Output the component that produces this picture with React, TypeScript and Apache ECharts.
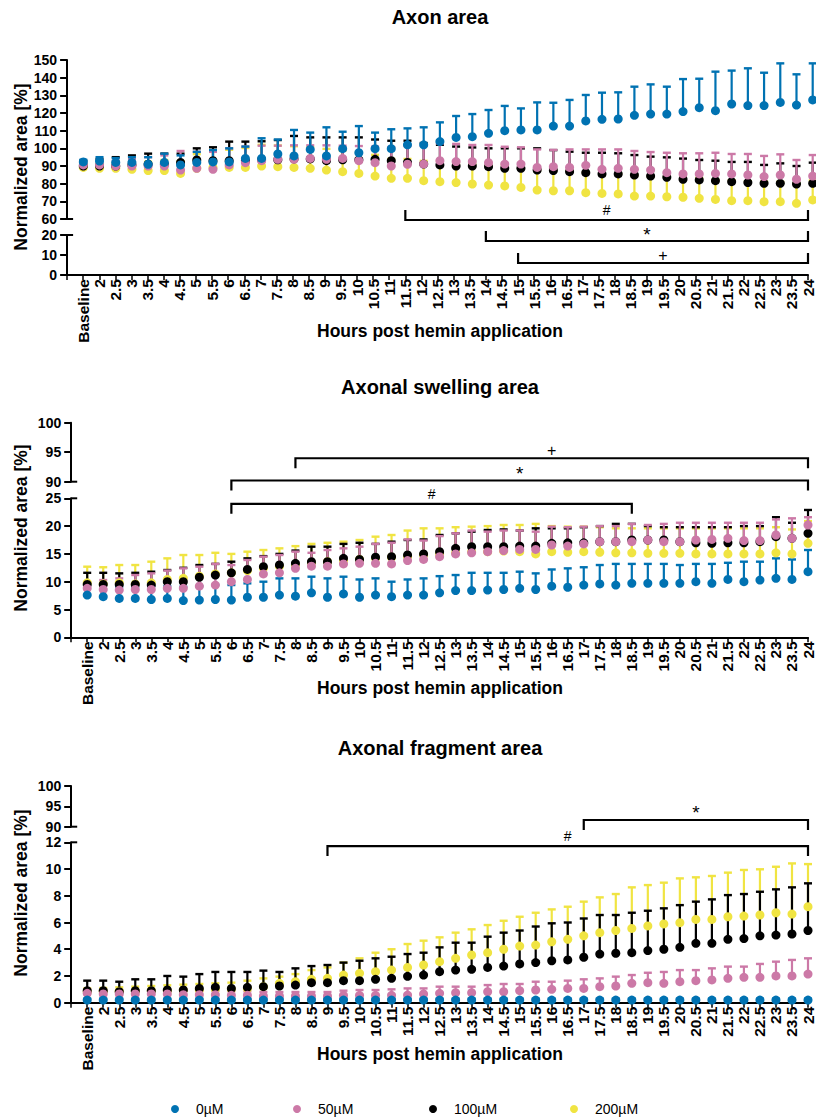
import React, { useEffect, useRef } from "react";
import * as echarts from "echarts";

// ---------- DATA ----------
const hours = ["Baseline", "2", "2.5", "3", "3.5", "4", "4.5", "5", "5.5", "6", "6.5", "7", "7.5", "8", "8.5", "9", "9.5", "10", "10.5", "11", "11.5", "12", "12.5", "13", "13.5", "14", "14.5", "15", "15.5", "16", "16.5", "17", "17.5", "18", "18.5", "19", "19.5", "20", "20.5", "21", "21.5", "22", "22.5", "23", "23.5", "24"];
const groups = ["0µM", "50µM", "100µM", "200µM"];

// Axon area (mean, SD)
const axonMean0 = [92.3, 92.8, 92.0, 92.0, 91.0, 92.0, 90.6, 92.0, 92.3, 92.3, 94.3, 94.3, 96.8, 95.7, 99.4, 95.7, 99.8, 97.5, 99.8, 99.8, 102.0, 102.0, 103.8, 106.2, 106.6, 108.5, 110.0, 110.4, 110.4, 112.6, 112.6, 115.5, 116.4, 116.6, 118.7, 119.4, 119.4, 120.8, 123.0, 121.3, 125.1, 124.2, 124.2, 126.0, 124.5, 127.4];
const axonSd0 = [1.2, 2.2, 2.5, 3.0, 4.0, 5.0, 5.4, 6.0, 6.7, 7.7, 6.7, 11.4, 8.2, 14.7, 9.5, 16.2, 9.6, 15.1, 9.1, 11.0, 9.3, 9.9, 10.9, 12.1, 12.8, 13.2, 14.0, 12.2, 15.6, 13.2, 14.8, 14.7, 15.1, 15.1, 16.2, 16.8, 15.5, 18.4, 16.4, 22.1, 18.9, 21.1, 18.6, 22.1, 17.4, 20.7];
const axonMean50 = [90.6, 90.6, 90.0, 90.0, 90.0, 90.0, 87.7, 88.7, 88.1, 90.6, 91.9, 93.0, 93.8, 93.8, 94.3, 93.8, 94.3, 93.0, 91.9, 90.0, 91.0, 91.1, 93.0, 92.5, 92.5, 91.9, 91.1, 91.1, 89.2, 89.6, 89.2, 90.4, 88.1, 88.7, 88.1, 87.7, 86.2, 85.5, 85.5, 85.8, 85.5, 84.9, 84.0, 84.9, 82.5, 84.3];
const axonSd50 = [0.9, 1.9, 3.0, 4.0, 5.0, 6.0, 10.8, 9.3, 9.9, 9.4, 9.1, 8.5, 7.7, 7.9, 7.4, 7.9, 7.2, 8.3, 9.1, 10.7, 10.3, 10.2, 9.8, 10.0, 9.4, 10.0, 9.8, 9.5, 10.2, 9.5, 10.2, 9.0, 11.3, 10.7, 10.4, 10.2, 11.3, 11.7, 11.7, 11.7, 11.3, 11.9, 11.7, 11.7, 10.9, 11.9];
const axonMean100 = [90.0, 90.0, 90.0, 90.5, 91.0, 91.0, 92.0, 93.4, 93.0, 93.0, 93.0, 93.5, 93.5, 94.0, 94.0, 93.0, 93.5, 93.5, 93.8, 93.0, 92.0, 91.1, 90.6, 90.0, 90.0, 89.6, 88.7, 88.7, 87.7, 87.4, 86.8, 86.2, 85.5, 85.5, 84.9, 84.3, 83.6, 82.5, 82.1, 81.7, 81.1, 80.6, 80.2, 80.2, 79.8, 80.2];
const axonSd100 = [3.0, 4.0, 5.0, 5.5, 6.0, 6.0, 5.0, 6.6, 7.6, 10.8, 10.8, 10.5, 11.2, 13.0, 12.2, 13.2, 12.7, 12.7, 11.2, 11.3, 12.3, 11.9, 11.4, 11.0, 10.5, 10.4, 11.3, 11.3, 12.3, 11.6, 11.3, 11.3, 12.0, 11.7, 11.3, 11.0, 11.3, 11.7, 11.3, 11.3, 11.2, 11.7, 10.4, 11.3, 10.2, 11.7];
const axonMean200 = [89.2, 88.7, 88.7, 88.1, 87.4, 87.4, 85.8, 88.7, 89.2, 89.2, 89.2, 90.0, 89.6, 89.2, 88.7, 87.7, 86.8, 85.8, 84.3, 83.0, 83.0, 81.7, 81.1, 80.6, 79.8, 79.2, 78.7, 77.9, 76.4, 76.0, 76.0, 74.9, 74.5, 74.2, 73.0, 73.0, 72.6, 72.3, 71.7, 71.1, 70.4, 70.4, 69.8, 69.8, 68.9, 70.8];
const axonSd200 = [2.0, 2.5, 3.0, 4.0, 5.0, 6.0, 7.0, 8.0, 9.0, 10.0, 11.0, 12.0, 12.0, 12.0, 12.0, 12.0, 12.0, 12.0, 12.0, 11.0, 11.0, 11.2, 11.6, 10.8, 11.4, 11.0, 11.8, 11.3, 11.0, 11.6, 11.2, 11.5, 10.9, 11.3, 11.7, 11.0, 11.4, 11.2, 11.6, 11.1, 11.5, 11.0, 11.4, 11.2, 11.3, 11.0];

// Axonal swelling area
const swellMean0 = [7.6, 7.3, 7.0, 7.0, 6.8, 7.0, 6.6, 6.7, 6.8, 6.7, 7.2, 7.2, 7.6, 7.4, 8.0, 7.2, 7.8, 7.2, 7.6, 7.3, 7.6, 7.6, 8.0, 8.4, 8.4, 8.5, 8.6, 8.8, 8.6, 9.2, 9.0, 9.4, 9.6, 9.4, 9.7, 9.7, 9.7, 9.7, 10.0, 9.7, 10.4, 10.0, 10.3, 10.6, 10.4, 11.8];
const swellSd0 = [2.2, 2.4, 2.1, 2.1, 2.4, 2.2, 2.5, 2.5, 2.6, 2.7, 2.5, 2.8, 3.0, 3.2, 2.9, 3.4, 3.1, 3.2, 3.0, 2.7, 2.8, 3.0, 3.0, 2.8, 3.2, 3.1, 3.0, 3.0, 2.9, 3.0, 3.4, 3.2, 3.4, 3.8, 3.5, 3.5, 3.5, 3.3, 3.2, 3.5, 3.0, 3.6, 3.3, 3.6, 3.6, 3.9];
const swellMean50 = [8.8, 8.6, 8.5, 8.6, 8.6, 8.8, 8.8, 9.2, 9.4, 10.0, 10.4, 11.4, 11.6, 12.4, 12.8, 12.8, 13.2, 13.3, 13.3, 13.2, 13.8, 14.0, 14.5, 15.0, 15.2, 15.4, 15.6, 15.8, 15.8, 16.6, 16.4, 16.8, 17.2, 17.2, 17.2, 17.5, 17.2, 17.2, 17.5, 17.6, 17.8, 17.4, 17.4, 18.4, 17.8, 20.2];
const swellSd50 = [1.0, 1.7, 2.1, 2.6, 2.9, 3.2, 3.6, 3.5, 3.8, 3.0, 3.5, 3.1, 3.2, 3.0, 2.4, 2.9, 2.8, 3.0, 3.5, 3.8, 3.8, 3.4, 3.7, 3.7, 4.0, 3.6, 3.6, 3.4, 3.2, 3.3, 3.4, 3.1, 2.8, 2.8, 3.2, 2.7, 3.2, 3.4, 3.1, 3.0, 2.8, 3.2, 3.2, 2.8, 3.6, 1.4];
const swellMean100 = [9.5, 9.5, 9.5, 9.5, 9.4, 10.0, 10.0, 10.8, 11.2, 11.6, 12.2, 12.7, 13.0, 13.3, 13.6, 13.6, 14.2, 14.0, 14.4, 14.5, 14.8, 15.0, 15.4, 16.0, 16.3, 16.3, 16.3, 16.4, 16.4, 16.9, 17.0, 17.0, 17.2, 17.2, 17.5, 17.5, 17.5, 17.2, 17.0, 16.9, 17.0, 17.0, 17.2, 18.1, 17.8, 18.7];
const swellSd100 = [2.1, 2.1, 2.0, 2.1, 2.4, 2.1, 2.5, 2.2, 2.0, 2.0, 2.0, 1.9, 2.0, 2.3, 2.7, 2.7, 2.6, 3.0, 2.4, 2.7, 2.7, 2.6, 3.0, 2.7, 2.7, 3.0, 3.1, 2.8, 3.2, 2.7, 2.6, 2.8, 2.8, 3.2, 2.9, 2.5, 2.3, 2.6, 2.8, 2.9, 2.8, 3.0, 2.8, 3.5, 2.8, 4.2];
const swellMean200 = [9.8, 9.6, 9.8, 9.6, 9.8, 10.4, 10.6, 11.0, 11.4, 11.6, 12.0, 12.4, 12.8, 13.0, 13.4, 13.6, 13.8, 14.0, 14.2, 14.4, 14.5, 14.8, 15.0, 15.2, 15.4, 15.4, 15.5, 15.4, 15.0, 15.4, 15.3, 15.4, 15.3, 15.2, 15.2, 15.1, 15.1, 15.1, 15.0, 15.0, 15.0, 15.0, 15.0, 15.2, 15.0, 16.9];
const swellSd200 = [2.9, 3.0, 3.2, 3.4, 3.8, 3.8, 4.2, 3.8, 3.8, 3.4, 3.4, 3.3, 3.2, 3.4, 3.4, 3.4, 3.4, 3.5, 3.9, 4.0, 4.7, 4.8, 4.6, 4.6, 4.5, 4.6, 4.7, 4.8, 5.4, 4.6, 4.6, 4.5, 4.5, 4.4, 4.4, 4.5, 4.5, 4.5, 4.6, 4.6, 4.6, 4.6, 4.6, 4.6, 4.4, 4.0];

// Axonal fragment area
const fragMean0 = [0.2, 0.2, 0.2, 0.2, 0.2, 0.2, 0.2, 0.2, 0.2, 0.2, 0.2, 0.2, 0.2, 0.2, 0.2, 0.2, 0.2, 0.2, 0.2, 0.2, 0.2, 0.2, 0.2, 0.2, 0.2, 0.2, 0.2, 0.2, 0.2, 0.2, 0.2, 0.2, 0.2, 0.2, 0.2, 0.2, 0.2, 0.2, 0.2, 0.2, 0.2, 0.2, 0.2, 0.2, 0.2, 0.2];
const fragSd0 = [0.1, 0.1, 0.1, 0.1, 0.1, 0.1, 0.1, 0.1, 0.1, 0.1, 0.1, 0.1, 0.1, 0.1, 0.1, 0.1, 0.1, 0.1, 0.1, 0.1, 0.1, 0.1, 0.1, 0.1, 0.1, 0.1, 0.1, 0.1, 0.1, 0.1, 0.1, 0.1, 0.1, 0.1, 0.1, 0.1, 0.1, 0.1, 0.1, 0.1, 0.1, 0.1, 0.1, 0.1, 0.1, 0.1];
const fragMean50 = [0.7, 0.65, 0.65, 0.65, 0.65, 0.65, 0.6, 0.6, 0.6, 0.55, 0.55, 0.5, 0.5, 0.5, 0.5, 0.5, 0.55, 0.55, 0.55, 0.55, 0.57, 0.65, 0.7, 0.75, 0.75, 0.82, 0.82, 0.9, 0.95, 1.0, 1.07, 1.07, 1.2, 1.25, 1.45, 1.5, 1.45, 1.57, 1.65, 1.7, 1.82, 1.9, 1.9, 2.0, 2.0, 2.14];
const fragSd50 = [0.3, 0.3, 0.3, 0.3, 0.3, 0.3, 0.3, 0.3, 0.3, 0.3, 0.3, 0.3, 0.3, 0.3, 0.3, 0.3, 0.35, 0.4, 0.4, 0.45, 0.5, 0.42, 0.5, 0.45, 0.45, 0.5, 0.58, 0.5, 0.62, 0.57, 0.58, 0.68, 0.62, 0.7, 0.62, 0.74, 0.85, 0.87, 0.79, 0.87, 0.88, 0.8, 1.0, 1.07, 1.2, 1.18];
const fragMean100 = [0.9, 0.9, 0.82, 0.9, 0.9, 0.95, 0.95, 1.07, 1.15, 1.07, 1.15, 1.2, 1.25, 1.32, 1.5, 1.5, 1.65, 1.65, 1.75, 1.82, 1.97, 2.07, 2.32, 2.44, 2.5, 2.64, 2.74, 2.9, 3.0, 3.14, 3.2, 3.4, 3.64, 3.7, 3.74, 3.9, 4.0, 4.14, 4.44, 4.44, 4.74, 4.8, 5.0, 5.06, 5.14, 5.4];
const fragSd100 = [0.75, 0.75, 0.75, 0.85, 0.85, 1.05, 1.0, 1.07, 1.15, 1.23, 1.15, 1.2, 1.05, 1.25, 1.24, 1.32, 1.35, 1.49, 1.57, 1.62, 1.67, 1.67, 1.82, 2.05, 1.99, 2.3, 2.5, 2.5, 2.7, 2.8, 2.8, 2.9, 2.92, 2.86, 2.99, 2.98, 3.06, 3.16, 3.12, 3.29, 3.31, 3.33, 3.3, 3.42, 3.49, 3.53];
const fragMean200 = [0.82, 0.85, 0.85, 0.85, 0.9, 0.9, 0.95, 0.95, 1.0, 1.0, 1.07, 1.2, 1.45, 1.57, 1.75, 1.82, 2.07, 2.2, 2.32, 2.44, 2.64, 2.82, 3.07, 3.32, 3.57, 3.74, 4.0, 4.24, 4.31, 4.56, 4.74, 5.0, 5.24, 5.4, 5.56, 5.74, 5.89, 5.99, 6.23, 6.23, 6.43, 6.48, 6.56, 6.73, 6.63, 7.18];
const fragSd200 = [0.25, 0.25, 0.3, 0.35, 0.35, 0.4, 0.4, 0.45, 0.45, 0.5, 0.58, 0.62, 0.5, 0.57, 0.69, 0.82, 0.93, 1.12, 1.42, 1.56, 1.75, 1.82, 1.82, 1.92, 1.92, 2.07, 2.13, 2.19, 2.42, 2.42, 2.44, 2.56, 2.64, 2.73, 3.07, 3.06, 3.09, 3.31, 3.15, 3.25, 3.3, 3.45, 3.42, 3.44, 3.79, 3.19];

// Significance brackets (start / end category, level in lower-axis units, label)
const axonBracketStart = ["11.5", "14", "15"];
const axonBracketEnd = ["24", "24", "24"];
const axonBracketLevel = [27.5, 17, 6];
const axonBracketLabel = ["#", "*", "+"];

const swellBracketStart = ["8", "6", "6"];
const swellBracketEnd = ["24", "24", "18.5"];
const swellBracketLevel = [32.2, 28.2, 24.0];
const swellBracketLabel = ["+", "*", "#"];

const fragBracketStart = ["17", "9"];
const fragBracketEnd = ["24", "24"];
const fragBracketLevel = [13.67, 11.72];
const fragBracketLabel = ["*", "#"];

// ---------- STYLE / LAYOUT ----------
const FONT = '"Liberation Sans", Arial, Helvetica, sans-serif';
const COLORS = ["#0072B2", "#CC79A7", "#000000", "#F0E442"];
const DRAW_ORDER = [3, 2, 1, 0];
const LABEL_FONT: Record<string, string> = { "#": "14px", "*": "19px", "+": "16px" };
const LABEL_OFFSET: Record<string, number> = { "#": 10, "*": 7, "+": 8 };

type Seg = { top: number; bottom: number; min: number; max: number; interval: number };
type PanelCfg = {
  title: string;
  titleY: number;
  xTitleY: number;
  yTitleY: number;
  left: number;
  width: number;
  upper: Seg;
  lower: Seg;
  dataIn: "upper" | "lower";
  means: number[][];
  sds: number[][];
  bStart: string[];
  bEnd: string[];
  bLevel: number[];
  bLabel: string[];
  tickDir: number; // -1: bracket ends point up, +1: point down
};

const panels: PanelCfg[] = [
  {
    title: "Axon area",
    titleY: 17,
    xTitleY: 331,
    yTitleY: 167,
    left: 67.1,
    width: 745.6,
    upper: { top: 60, bottom: 219, min: 60, max: 150, interval: 10 },
    lower: { top: 235, bottom: 275, min: 0, max: 20, interval: 10 },
    dataIn: "upper",
    means: [axonMean0, axonMean50, axonMean100, axonMean200],
    sds: [axonSd0, axonSd50, axonSd100, axonSd200],
    bStart: axonBracketStart,
    bEnd: axonBracketEnd,
    bLevel: axonBracketLevel,
    bLabel: axonBracketLabel,
    tickDir: -1,
  },
  {
    title: "Axonal swelling area",
    titleY: 386.5,
    xTitleY: 687.5,
    yTitleY: 528,
    left: 71.2,
    width: 741.5,
    upper: { top: 422.7, bottom: 481.7, min: 90, max: 100, interval: 5 },
    lower: { top: 498.3, bottom: 637.3, min: 0, max: 25, interval: 5 },
    dataIn: "lower",
    means: [swellMean0, swellMean50, swellMean100, swellMean200],
    sds: [swellSd0, swellSd50, swellSd100, swellSd200],
    bStart: swellBracketStart,
    bEnd: swellBracketEnd,
    bLevel: swellBracketLevel,
    bLabel: swellBracketLabel,
    tickDir: 1,
  },
  {
    title: "Axonal fragment area",
    titleY: 748,
    xTitleY: 1053.5,
    yTitleY: 893,
    left: 71.2,
    width: 741.5,
    upper: { top: 786, bottom: 826.7, min: 90, max: 100, interval: 5 },
    lower: { top: 842.3, bottom: 1002.7, min: 0, max: 12, interval: 2 },
    dataIn: "lower",
    means: [fragMean0, fragMean50, fragMean100, fragMean200],
    sds: [fragSd0, fragSd50, fragSd100, fragSd200],
    bStart: fragBracketStart,
    bEnd: fragBracketEnd,
    bLevel: fragBracketLevel,
    bLabel: fragBracketLabel,
    tickDir: 1,
  },
];

function buildOption() {
  const grid: any[] = [];
  const xAxis: any[] = [];
  const yAxis: any[] = [];
  const series: any[] = [];
  const graphic: any[] = [];

  const yAxisBase = (gi: number, s: Seg) => ({
    type: "value",
    gridIndex: gi,
    min: s.min,
    max: s.max,
    interval: s.interval,
    axisLine: { show: true, onZero: false, lineStyle: { color: "#000", width: 2 } },
    axisTick: { show: true, length: 7, lineStyle: { color: "#000", width: 2 } },
    axisLabel: { color: "#000", fontSize: 14, fontWeight: "bold", margin: 10, fontFamily: FONT },
    splitLine: { show: false },
  });

  panels.forEach((p, pi) => {
    const gU = pi * 2;
    const gL = pi * 2 + 1;
    grid.push({ left: p.left, top: p.upper.top, width: p.width, height: p.upper.bottom - p.upper.top });
    grid.push({ left: p.left, top: p.lower.top, width: p.width, height: p.lower.bottom - p.lower.top });

    xAxis.push({ type: "value", gridIndex: gU, min: -1, max: 45, interval: 1, show: false });
    xAxis.push({
      type: "value",
      gridIndex: gL,
      min: -1,
      max: 45,
      interval: 1,
      axisLine: { show: true, onZero: false, lineStyle: { color: "#000", width: 2 } },
      axisTick: { show: true, length: 5, lineStyle: { color: "#000", width: 1.5 } },
      axisLabel: {
        rotate: 90,
        margin: 4,
        color: "#000",
        fontSize: 15.5,
        fontWeight: "bold",
        fontFamily: FONT,
        formatter: (v: number) => hours[Math.round(v)] ?? "",
      },
      splitLine: { show: false },
    });
    yAxis.push(yAxisBase(gU, p.upper));
    yAxis.push(yAxisBase(gL, p.lower));

    const dg = p.dataIn === "upper" ? gU : gL;

    DRAW_ORDER.forEach((g) => {
      const color = COLORS[g];
      const m = p.means[g];
      const s = p.sds[g];
      series.push({
        type: "custom",
        name: groups[g] + " SD",
        xAxisIndex: dg,
        yAxisIndex: dg,
        clip: false,
        encode: { x: 0, y: 1 },
        data: m.map((v, i) => [i, v, s[i]]),
        renderItem: (_params: any, api: any) => {
          const x = api.value(0);
          const mean = api.value(1);
          const sd = api.value(2);
          const p0 = api.coord([x, mean]);
          const p1 = api.coord([x, mean + sd]);
          return {
            type: "group",
            children: [
              { type: "line", shape: { x1: p0[0], y1: p0[1], x2: p1[0], y2: p1[1] }, style: { stroke: color, lineWidth: 2.2 } },
              { type: "line", shape: { x1: p1[0] - 4, y1: p1[1], x2: p1[0] + 4, y2: p1[1] }, style: { stroke: color, lineWidth: 2.4 } },
            ],
          };
        },
      });
      series.push({
        type: "scatter",
        name: groups[g],
        xAxisIndex: dg,
        yAxisIndex: dg,
        symbol: "circle",
        symbolSize: 9,
        itemStyle: { color, opacity: 1 },
        data: m.map((v, i) => [i, v]),
      });
    });

    // brackets
    const bData = p.bStart.map((st, i) => [hours.indexOf(st), hours.indexOf(p.bEnd[i]), p.bLevel[i]]);
    const labels = p.bLabel;
    const dir = p.tickDir;
    series.push({
      type: "custom",
      name: "brackets" + pi,
      xAxisIndex: gL,
      yAxisIndex: gL,
      clip: false,
      color: "#000",
      encode: { x: [0, 1], y: 2 },
      data: bData,
      renderItem: (params: any, api: any) => {
        const a = api.coord([api.value(0), api.value(2)]);
        const b = api.coord([api.value(1), api.value(2)]);
        const t = 10 * dir;
        const lab = labels[params.dataIndex];
        return {
          type: "group",
          children: [
            {
              type: "polyline",
              shape: { points: [[a[0], a[1] + t], [a[0], a[1]], [b[0], b[1]], [b[0], b[1] + t]] },
              style: { stroke: "#000", lineWidth: 2.2, fill: null },
            },
            {
              type: "text",
              x: (a[0] + b[0]) / 2,
              y: a[1] - LABEL_OFFSET[lab],
              style: {
                text: lab,
                fill: "#000",
                stroke: null,
                font: `${LABEL_FONT[lab]} ${FONT}`,
                align: "center",
                verticalAlign: "middle",
              },
            },
          ],
        };
      },
    });

    // texts
    graphic.push({
      type: "text",
      x: 440,
      y: p.titleY,
      style: { text: p.title, fill: "#000", font: `bold 20px ${FONT}`, align: "center", verticalAlign: "middle" },
    });
    graphic.push({
      type: "text",
      x: 440,
      y: p.xTitleY,
      style: { text: "Hours post hemin application", fill: "#000", font: `bold 17.5px ${FONT}`, align: "center", verticalAlign: "middle" },
    });
    graphic.push({
      type: "text",
      x: 21,
      y: p.yTitleY,
      rotation: Math.PI / 2,
      style: { text: "Normalized area [%]", fill: "#000", font: `bold 17.5px ${FONT}`, align: "center", verticalAlign: "middle" },
    });
    // axis break marks
    graphic.push({
      type: "line",
      shape: { x1: p.left, y1: p.upper.bottom, x2: p.left + 6, y2: p.upper.bottom },
      style: { stroke: "#000", lineWidth: 2 },
    });
    graphic.push({
      type: "line",
      shape: { x1: p.left, y1: p.lower.top, x2: p.left + 6, y2: p.lower.top },
      style: { stroke: "#000", lineWidth: 2 },
    });
  });

  const legendLefts = [171, 293, 429, 570];
  const legend = groups.map((name, i) => ({
    left: legendLefts[i],
    top: 1102,
    padding: 0,
    orient: "horizontal",
    selectedMode: false,
    icon: "circle",
    itemWidth: 8,
    itemHeight: 8,
    data: [name],
    textStyle: { color: "#000", fontSize: 14, fontFamily: FONT, padding: [0, 0, 0, 12], lineHeight: 14 },
  }));

  return {
    animation: false,
    backgroundColor: "#fff",
    textStyle: { fontFamily: FONT },
    grid,
    xAxis,
    yAxis,
    series,
    legend,
    graphic,
  };
}

export default function App() {
  const ref = useRef<HTMLDivElement>(null);
  useEffect(() => {
    if (!ref.current) return;
    const chart = echarts.init(ref.current, null, { renderer: "svg" });
    chart.setOption(buildOption() as any);
    return () => chart.dispose();
  }, []);
  return (
    <div
      ref={ref}
      style={{ position: "absolute", left: 0, top: 0, width: 816, height: 1119, background: "#fff" }}
    />
  );
}
